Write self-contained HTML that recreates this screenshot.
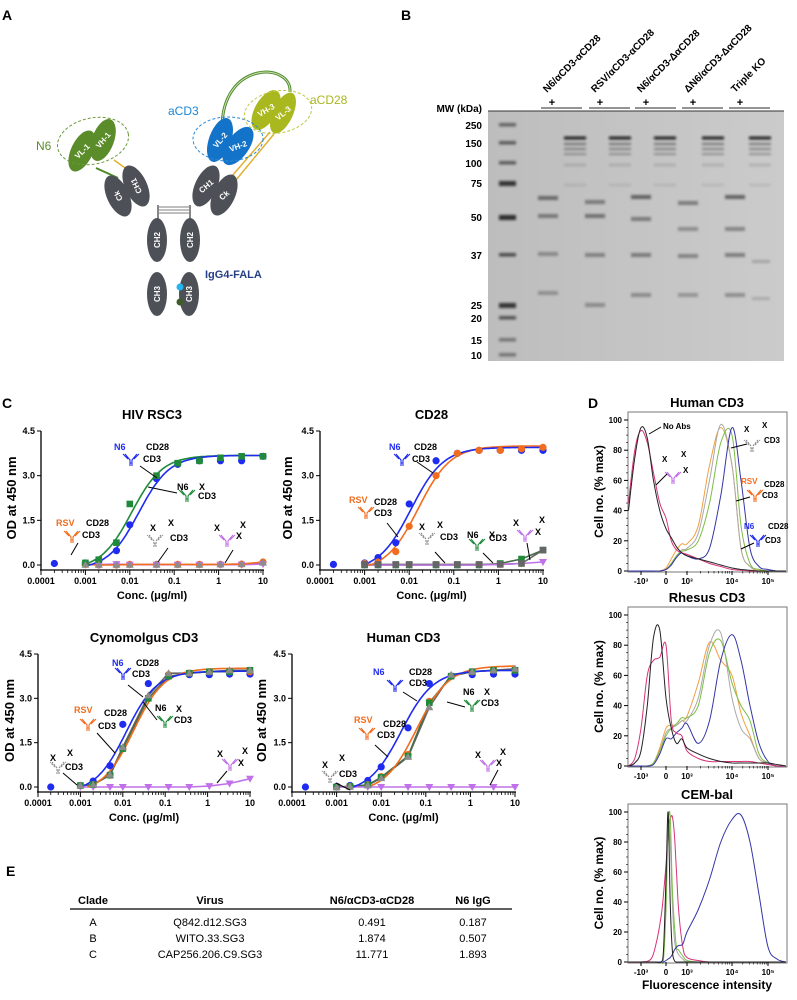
<!DOCTYPE html>
<html><head><meta charset="utf-8">
<style>
html,body{margin:0;padding:0;background:#fff;}
svg{display:block;font-family:"Liberation Sans",Arial,sans-serif;}
</style></head>
<body>
<svg id="fig" width="797" height="1000" viewBox="0 0 797 1000" xmlns="http://www.w3.org/2000/svg">
<defs>
<filter id="blur1" x="-20%" y="-80%" width="140%" height="260%"><feGaussianBlur stdDeviation="1.3"/></filter>
<linearGradient id="gelgrad" x1="0" y1="0" x2="1" y2="0"><stop offset="0" stop-color="#bdbdbd"/><stop offset="1" stop-color="#cbcbcb"/></linearGradient>
</defs>
</svg>
<script>
// ===== ELISA data =====
const concs=[0.0002,0.001,0.002,0.005,0.01,0.04,0.12,0.37,1.1,3.3,10];
const xTickVals=[0.0001,0.001,0.01,0.1,1,10];
const xTickLabels=['0.0001','0.001','0.01','0.1','1','10'];
const yTickVals=[0,1.5,3,4.5];
const yTickLabels=['0.0','1.5','3.0','4.5'];
// HIV RSC3
const rsc3Blue=[0.05,0.07,0.15,0.48,1.35,2.9,3.38,3.5,3.5,3.5,3.65];
const rsc3Green=[null,0.07,0.18,0.75,2.05,3.0,3.42,3.5,3.6,3.65,3.65];
const rsc3Orange=[null,0.02,0.0,0.0,0.02,0.02,0.02,0.02,0.02,0.03,0.1];
const rsc3Gray=[null,0.01,0.01,0.01,0.01,0.01,0.01,0.01,0.02,0.03,0.08];
const rsc3Purple=[null,0.01,0.01,0.03,0.01,0.01,0.01,0.01,0.01,0.01,0.03];
const rsc3BlueFit=[-0.15,3.68,0.016,1.25];
const rsc3GreenFit=[-0.15,3.68,0.011,1.25];
// CD28
const cd28Blue=[0.02,0.07,0.25,0.75,2.05,3.5,3.75,3.85,3.85,3.85,3.85];
const cd28Orange=[null,0.05,0.1,0.45,1.3,3.0,3.75,3.85,3.85,3.9,3.95];
const cd28Gray=[null,0.02,0.02,0.02,0.02,0.02,0.02,0.02,0.02,0.05,0.5];
const cd28Green=[null,0.0,0.0,0.0,0.0,0.0,0.0,0.0,0.05,0.2,0.5];
const cd28Purple=[null,0.0,0.0,0.0,0.0,0.0,0.0,0.0,0.02,0.05,0.1];
const cd28BlueFit=[-0.2,3.95,0.011,1.2];
const cd28OrangeFit=[-0.2,4.0,0.016,1.2];
// Cynomolgus CD3
const cynoBlue=[0.0,0.05,0.2,0.72,2.12,3.5,3.75,3.8,3.8,3.82,3.82];
const cynoOrange=[null,0.05,0.08,0.4,1.3,3.0,3.8,3.85,3.9,3.9,3.9];
const cynoGray=[null,0.05,0.08,0.42,1.35,3.1,3.85,3.85,3.9,3.95,3.95];
const cynoGreen=[null,0.05,0.08,0.4,1.3,3.0,3.75,3.85,3.9,3.9,3.95];
const cynoPurple=[null,0.0,0.0,0.0,0.0,0.0,0.0,0.0,0.03,0.12,0.28];
const cynoBlueFit=[-0.2,3.92,0.012,1.2];
const cynoOrangeFit=[-0.2,4.02,0.018,1.2];
// Human CD3
const huBlue=[0.0,0.02,0.05,0.22,0.68,2.0,3.5,3.75,3.8,3.82,3.82];
const huOrange=[null,0.0,0.02,0.08,0.35,1.1,2.9,3.75,3.9,3.95,3.95];
const huGray=[null,0.0,0.02,0.06,0.3,1.02,2.7,3.8,3.9,3.95,4.0];
const huGreen=[null,0.0,0.02,0.07,0.33,1.05,2.85,3.75,3.9,3.95,3.95];
const huPurple=[null,0.0,0.0,0.0,0.0,0.0,0.0,0.0,0.0,0.0,0.0];
const huBlueFit=[-0.2,3.95,0.028,1.2];
const huOrangeFit=[-0.2,4.1,0.062,1.2];

// ===== Flow data (u: -1=-10^3, 0=0, 1=10^3, 2=10^4, 3=10^5) =====
const flowU=[-1.5,-1.25,-1,-0.75,-0.5,-0.25,0,0.25,0.5,0.75,1,1.25,1.5,1.75,2,2.25,2.5,2.75,3,3.25,3.5];
const flowTickU=[-1,0,1,2,3];
const flowTickLabels=['-10³','0','10³','10⁴','10⁵'];
const flowYTicks=[0,20,40,60,80,100];
const hBlack=[40,75,95,88,60,40,28,22,16,12,10,8,6,4,2,1,0.5,0,0,0,0];
const hMagenta=[45,80,93,85,65,45,35,20,14,12,11,8,5,3,1,0.5,0,0,0,0,0];
const hGray=[0,0,0,0,0,0,1,5,10,14,15,25,60,97,70,15,3,1,0,0,0];
const hOrange=[0,0,0,0,0,0,2,8,14,18,18,30,70,95,70,15,3,0,0,0,0];
const hGreen=[0,0,0,0,0,0,1,5,10,13,14,20,45,85,90,30,5,1,0,0,0];
const hBlue=[0,0,0,0,0,0,1,4,9,12,10,8,15,50,95,60,15,3,1,0,0];
const rBlack=[0,2,10,40,85,90,45,25,15,18,12,8,5,3,2,2,2,2,2,1,0];
const rMagenta=[0,5,25,60,70,72,80,30,22,20,10,5,3,3,3,3,3,2,1,0,0];
const rGray=[0,0,0,0,2,10,22,25,27,30,30,45,80,88,45,25,18,5,2,0,0];
const rOrange=[0,0,0,0,2,12,25,27,27,30,33,55,82,70,60,35,20,5,2,0,0];
const rGreen=[0,0,0,0,2,10,20,25,28,32,32,40,75,83,55,40,30,8,2,0,0];
const rBlue=[0,0,0,0,1,8,18,18,22,25,28,15,30,70,87,70,40,15,3,0,0];
const cemU=[-1.5,-1,-0.6,-0.4,-0.2,-0.1,0,0.1,0.2,0.3,0.4,0.5,0.6,0.8,1,1.25,1.5,1.75,2,2.25,2.5,2.75,3,3.25,3.5];
const cBlack=[0,0,0,0,0,8,55,100,40,8,1,0,0,0,0,0,0,0,0,0,0,0,0,0,0];
const cGray=[0,0,0,0,0,3,40,95,80,40,15,8,5,2,0,0,0,0,0,0,0,0,0,0,0];
const cGreen=[0,0,0,0,0,2,35,90,97,50,25,10,8,4,1,0,0,0,0,0,0,0,0,0,0];
const cMagenta=[0,0,2,12,30,45,65,85,95,97,85,60,35,10,3,1,0,0,0,0,0,0,0,0,0];
const cBlue=[0,0,0,0,0,0,1,2,3,5,8,10,11,12,20,35,55,80,95,98,80,45,10,2,0];

// ===== Table data =====
const tableHeaders=['Clade','Virus','N6/αCD3-αCD28','N6 IgG'];
const clades=['A','B','C'];
const viruses=['Q842.d12.SG3','WITO.33.SG3','CAP256.206.C9.SG3'];
const triIC50=['0.491','1.874','11.771'];
const n6IC50=['0.187','0.507','1.893'];

const NS='http://www.w3.org/2000/svg';
const svg=document.getElementById('fig');
function mk(tag,attrs,name,parent){
  const e=document.createElementNS(NS,tag);
  for(const k in attrs) e.setAttribute(k,attrs[k]);
  
  
  (parent||svg).appendChild(e);
  return e;
}
function txt(x,y,s,o,name,parent){
  o=o||{};
  const a={x:x,y:y,'font-size':o.size||9,'font-weight':o.weight||'bold',fill:o.fill||'#000','text-anchor':o.anchor||'start'};
  if(o.transform) a.transform=o.transform;
  const e=mk('text',a,name,parent);
  e.textContent=s;
  return e;
}
function line(x1,y1,x2,y2,st,w,name,parent){return mk('line',{x1:x1,y1:y1,x2:x2,y2:y2,stroke:st,'stroke-width':w},name,parent);}

// ===== Panel letters =====
txt(2,20,'A',{size:14},'panel-a-label');
txt(401,20,'B',{size:14},'panel-b-label');
txt(2,408,'C',{size:14},'panel-c-label');
txt(588,408,'D',{size:14},'panel-d-label');
txt(6,876,'E',{size:14},'panel-e-label');

// ===== Panel A: antibody schematic =====
const gA=mk('g',{},'antibody-schematic');
function dom(cx,cy,rx,ry,rot,fill,label,name,labRot){
  const g=mk('g',{transform:`translate(${cx},${cy}) rotate(${rot})`},name,gA);
  mk('ellipse',{cx:0,cy:0,rx:rx,ry:ry,fill:fill},name+'-shape',g);
  txt(0,3,label,{size:8,fill:'#fff',anchor:'middle',transform:`rotate(${labRot})`},name+'-text',g);
  return g;
}
mk('path',{d:'M222,128 C222,60 292,62 290,92',fill:'none',stroke:'#4e8a2a','stroke-width':3},'linker-arc',gA);
mk('path',{d:'M222,128 C222,60 292,62 290,92',fill:'none',stroke:'#cfe3b8','stroke-width':1},'linker-arc-inner',gA);
for(let i=0;i<3;i++){line(158,207+i*3,190,207+i*3,'#aaa',1.5,'hinge-bar',gA);}
line(158,205,158,222,'#888',2,'hinge-left',gA);
line(190,205,190,222,'#888',2,'hinge-right',gA);
line(96,168,118,178,'#4e8a2a',2,'n6-vl-linker',gA);
line(114,160,128,170,'#e0b030',1.5,'n6-vh-linker',gA);
line(270,132,232,176,'#e0b030',1.5,'cd28-linker-1',gA);
line(274,134,236,180,'#e0b030',1.5,'cd28-linker-2',gA);
const dg='#4d5157';
dom(118,196,11,22,-25,dg,'Ck','ck-left',-90);
dom(136,186,11,22,-25,dg,'CH1','ch1-left',-90);
dom(206,186,11,22,25,dg,'CH1','ch1-right',-65);
dom(224,195,11,22,25,dg,'Ck','ck-right',-65);
dom(157,240,10,22,0,dg,'CH2','ch2-left',-90);
dom(190,240,10,22,0,dg,'CH2','ch2-right',-90);
dom(157,294,10,22,0,dg,'CH3','ch3-left',-90);
dom(189,294,10,22,0,dg,'CH3','ch3-right',-90);
mk('rect',{x:168,y:285,width:6,height:20,fill:'#fff'},'ch3-gap',gA);
mk('circle',{cx:180,cy:287,r:3.5,fill:'#25b5ee'},'knob-dot',gA);
mk('circle',{cx:180,cy:302,r:3.5,fill:'#3d5e28'},'hole-dot',gA);
dom(82,151,11,22,25,'#5b8c2a','VL-1','vl-1',-70);
dom(103,140,11,22,20,'#5b8c2a','VH-1','vh-1',-70);
dom(220,140,11,23,20,'#1273c8','VL-2','vl-2',-70);
dom(238,146,11,22,35,'#1273c8','VH-2','vh-2',-55);
dom(266,110,11,22,30,'#a9b81e','VH-3','vh-3',-60);
dom(283,113,10,22,25,'#a9b81e','VL-3','vl-3',-65);
mk('ellipse',{cx:93,cy:141,rx:36,ry:23,fill:'none',stroke:'#6a9a3a','stroke-dasharray':'3,2','stroke-width':1,transform:'rotate(-12 93 141)'},'n6-dashed-ellipse',gA);
mk('ellipse',{cx:228,cy:139,rx:35,ry:22,fill:'none',stroke:'#2a8ad8','stroke-dasharray':'3,2','stroke-width':1},'acd3-dashed-ellipse',gA);
mk('ellipse',{cx:278,cy:112,rx:34,ry:21,fill:'none',stroke:'#c0c840','stroke-dasharray':'3,2','stroke-width':1,transform:'rotate(-10 278 112)'},'acd28-dashed-ellipse',gA);
txt(36,150,'N6',{size:12,fill:'#5b8c2a',weight:'normal'},'n6-label',gA);
txt(168,115,'aCD3',{size:12,fill:'#1a88d8',weight:'normal'},'acd3-label',gA);
txt(310,104,'aCD28',{size:12,fill:'#a9b81e',weight:'normal'},'acd28-label',gA);
txt(205,278,'IgG4-FALA',{size:11,fill:'#253f85',weight:'bold'},'igg4-fala-label',gA);

// ===== Panel B: gel =====
const gB=mk('g',{},'sds-page-gel');
const laneNames=['N6/αCD3-αCD28','RSV/αCD3-αCD28','N6/αCD3-ΔαCD28','ΔN6/αCD3-ΔαCD28','Triple KO'];
const labX=[547,595,641,688,735];
laneNames.forEach((n,i)=>{
  txt(labX[i],93,n,{size:10,transform:`rotate(-45 ${labX[i]} 93)`},'lane-label',gB);
  txt(labX[i]+5,106,'+',{size:11,anchor:'middle'},'reduced-plus',gB);
  line(labX[i]-6,108,labX[i]+35,108,'#555',1.3,'lane-pair-line',gB);
});
txt(482,112,'MW (kDa)',{size:10,anchor:'end'},'mw-label',gB);
mk('rect',{x:488,y:111,width:296,height:250,fill:'url(#gelgrad)'},'gel-background',gB);
line(488,111,784,111,'#333',1,'gel-top-edge',gB);
const mwLabels=['250','150','100','75','50','37','25','20','15','10'];
const mwY=[125,143,163,183,217,255,305,318,340,355];
const mwOp=[.55,.6,.6,.85,.9,.7,.85,.65,.45,.45];
mwLabels.forEach((m,i)=>{
  txt(482,mwY[i]+4,m,{size:10,anchor:'end'},'mw-tick-label',gB);
  mk('rect',{x:499,y:mwY[i]-2,width:17,height:m==='75'||m==='50'||m==='25'?5:3.5,fill:'#1a1a1a',opacity:mwOp[i],filter:'url(#blur1)'},'ladder-band',gB);
});
const redX=[548,595,641,688,735];
const redBands=[[[198,.55],[216,.45],[254,.35],[293,.3]],[[202,.45],[216,.5],[255,.4],[305,.35]],[[197,.6],[219,.45],[255,.45],[295,.35]],[[203,.45],[229,.35],[256,.4],[295,.3]],[[197,.6],[229,.4],[255,.45],[295,.35]]];
redBands.forEach((bs,i)=>bs.forEach(b=>{
  mk('rect',{x:redX[i]-10,y:b[0]-2,width:20,height:4,fill:'#222',opacity:b[1],filter:'url(#blur1)'},'reduced-band',gB);
}));
const nrX=[575,620,665,713,760];
const nrBands=[[138,.9,3],[144,.45,2],[149,.38,2],[154,.3,2],[165,.12,3],[185,.08,3]];
nrX.forEach((x,i)=>nrBands.forEach(b=>{
  mk('rect',{x:x-11,y:b[0]-b[2]/2,width:22,height:b[2],fill:'#111',opacity:b[1],filter:'url(#blur1)'},'non-reduced-band',gB);
}));
mk('rect',{x:752,y:260,width:18,height:3,fill:'#333',opacity:.25,filter:'url(#blur1)'},'triple-ko-faint-band',gB);
mk('rect',{x:752,y:297,width:18,height:3,fill:'#333',opacity:.2,filter:'url(#blur1)'},'triple-ko-faint-band',gB);

// ===== Panel C: ELISA charts =====
function icon(x,y,col,name,parent,dashed){
  const g=mk('g',{transform:`translate(${x},${y})`,stroke:col,'stroke-width':1.1,fill:'none'},name,parent);
  if(dashed) g.setAttribute('stroke-dasharray','2,1');
  mk('path',{d:'M-1,6 V0 L-6,-6 M1,6 V0 L6,-6 M-3,-1 L-8,-6 M3,-1 L8,-6 M-1,3 H1'},name+'-path',g);
  return g;
}
function fourPL(p,x){return p[0]+(p[1]-p[0])/(1+Math.pow(p[2]/x,p[3]));}
function drawElisa(cfg){
  const g=mk('g',{},cfg.name);
  const X=v=>cfg.x0+(Math.log10(v)+4)/5*(cfg.x1-cfg.x0);
  const Y=v=>cfg.y0-(v/4.5)*(cfg.y0-cfg.yt);
  txt((cfg.x0+cfg.x1)/2,cfg.yt-12,cfg.title,{size:13,anchor:'middle'},'chart-title',g);
  line(cfg.x0,cfg.yt,cfg.x0,cfg.y0+5,'#000',1.3,'y-axis',g);
  line(cfg.x0-1,cfg.y0+5,cfg.x1+1,cfg.y0+5,'#000',1.3,'x-axis',g);
  yTickVals.forEach((v,i)=>{
    line(cfg.x0-4,Y(v),cfg.x0,Y(v),'#000',1,'y-tick',g);
    txt(cfg.x0-6,Y(v)+3,yTickLabels[i],{size:9,anchor:'end'},'y-tick-label',g);
  });
  xTickVals.forEach((v,i)=>{
    line(X(v),cfg.y0+5,X(v),cfg.y0+10,'#000',1,'x-tick',g);
    txt(X(v),cfg.y0+19,xTickLabels[i],{size:9,anchor:'middle'},'x-tick-label',g);
    if(i<xTickVals.length-1){for(let k=2;k<10;k++){line(X(v*k),cfg.y0+5,X(v*k),cfg.y0+8,'#000',0.8,'x-minor-tick',g);}}
  });
  txt((cfg.x0+cfg.x1)/2,cfg.y0+34,'Conc. (μg/ml)',{size:11,anchor:'middle'},'x-axis-title',g);
  const yc=(cfg.y0+cfg.yt)/2;
  txt(cfg.ylx,yc,'OD at 450 nm',{size:13,anchor:'middle',transform:`rotate(-90 ${cfg.ylx} ${yc})`},'y-axis-title',g);
  cfg.series.forEach(s=>{
    if(s.fit){
      let d='';const N=120;
      for(let k=0;k<=N;k++){
        const lx=-4+5*k/N;const v=Math.pow(10,lx);const yv=fourPL(s.fit,v);
        if(yv<-0.02){continue;}
        d+=(d?'L':'M')+X(v).toFixed(1)+','+Y(yv).toFixed(1);
      }
      mk('path',{d:d,fill:'none',stroke:s.color,'stroke-width':1.6},s.key+'-fit-curve',g);
    } else {
      let d='';
      s.vals.forEach((v,i)=>{if(v===null)return;d+=(d?'L':'M')+X(concs[i]).toFixed(1)+','+Y(v).toFixed(1);});
      mk('path',{d:d,fill:'none',stroke:s.lineColor||s.color,'stroke-width':1.6},s.key+'-fit-line',g);
    }
  });
  cfg.series.slice().reverse().forEach(s=>{
    s.vals.forEach((v,i)=>{
      if(v===null)return;
      const px=X(concs[i]),py=Y(v);
      if(s.shape==='circle') mk('circle',{cx:px,cy:py,r:3.6,fill:s.color},s.key+'-point',g);
      else if(s.shape==='square') mk('rect',{x:px-3.3,y:py-3.3,width:6.6,height:6.6,fill:s.color},s.key+'-point',g);
      else if(s.shape==='tri') mk('path',{d:`M${px},${py-4}L${px+4},${py+3}L${px-4},${py+3}Z`,fill:s.color},s.key+'-point',g);
      else mk('path',{d:`M${px},${py+4}L${px+4},${py-3}L${px-4},${py-3}Z`,fill:s.color},s.key+'-point',g);
    });
  });
  cfg.ann.forEach(a=>{
    if(a.icon) icon(a.icon[0],a.icon[1],a.col,'antibody-icon',g,a.dashed);
    (a.t||[]).forEach(t=>txt(t[0],t[1],t[2],{size:9,fill:t[3]||'#000'},'annotation-label',g));
    if(a.l) line(a.l[0],a.l[1],a.l[2],a.l[3],'#000',1,'annotation-leader',g);
  });
}
const B='#1f2bf0',G='#1f8a3a',O='#f26c1d',GR='#8c8c8c',P='#c070e8';
const tri=(blue,green,orange,gray,purple,bf,gf,of)=>[
  {key:'gray',vals:gray,color:GR,shape:'tri',lineColor:'#666'},
  {key:'green',vals:green,color:G,shape:'square',fit:gf,lineColor:'#4a6a4a'},
  {key:'purple',vals:purple,color:P,shape:'dtri'},
  {key:'orange',vals:orange,color:O,shape:'circle',fit:of},
  {key:'blue',vals:blue,color:B,shape:'circle',fit:bf}
];
drawElisa({name:'chart-hiv-rsc3',title:'HIV RSC3',x0:41,x1:263,y0:565,yt:431,ylx:16,
  series:tri(rsc3Blue,rsc3Green,rsc3Orange,rsc3Gray,rsc3Purple,rsc3BlueFit,rsc3GreenFit,null),
  ann:[
   {icon:[131,460],col:B,t:[[114,450,'N6',B],[146,450,'CD28'],[143,462,'CD3']],l:[140,466,157,478]},
   {icon:[187,496],col:G,t:[[177,490,'N6'],[199,490,'X'],[198,499,'CD3']],l:[148,487,177,493]},
   {icon:[72,537],col:O,t:[[56,526,'RSV',O],[86,526,'CD28'],[82,538,'CD3']],l:[71,555,78,543]},
   {icon:[155,541],col:GR,dashed:1,t:[[150,531,'X'],[168,526,'X'],[170,541,'CD3']],l:[158,562,168,548]},
   {icon:[227,541],col:P,t:[[214,531,'X'],[240,528,'X'],[236,539,'X']],l:[225,563,233,550]}
  ]});
drawElisa({name:'chart-cd28',title:'CD28',x0:320,x1:543,y0:565,yt:431,ylx:292,
  series:[
   {key:'gray',vals:cd28Gray,color:'#666',shape:'square',lineColor:'#666'},
   {key:'green',vals:cd28Green,color:G,shape:'square',lineColor:'#4a6a4a'},
   {key:'purple',vals:cd28Purple,color:P,shape:'dtri'},
   {key:'orange',vals:cd28Orange,color:O,shape:'circle',fit:cd28OrangeFit},
   {key:'blue',vals:cd28Blue,color:B,shape:'circle',fit:cd28BlueFit}],
  ann:[
   {icon:[402,460],col:B,t:[[389,450,'N6',B],[414,450,'CD28'],[412,462,'CD3']],l:[417,462,433,473]},
   {icon:[366,513],col:O,t:[[349,503,'RSV',O],[374,505,'CD28'],[374,516,'CD3']],l:[387,523,398,537]},
   {icon:[427,539],col:GR,dashed:1,t:[[419,530,'X'],[437,528,'X'],[440,540,'CD3']],l:[435,552,445,563]},
   {icon:[477,545],col:G,t:[[467,538,'N6'],[489,538,'X'],[489,541,'CD3']],l:[483,553,493,563]},
   {icon:[525,536],col:P,t:[[513,526,'X'],[539,523,'X'],[535,535,'X']],l:[527,543,530,560]}
  ]});
drawElisa({name:'chart-cynomolgus-cd3',title:'Cynomolgus CD3',x0:38,x1:250,y0:787,yt:654,ylx:14,
  series:tri(cynoBlue,cynoGreen,cynoOrange,cynoGray,cynoPurple,cynoBlueFit,null,cynoOrangeFit),
  ann:[
   {icon:[123,674],col:B,t:[[112,666,'N6',B],[136,666,'CD28'],[132,677,'CD3']],l:[128,685,143,697]},
   {icon:[88,725],col:O,t:[[74,713,'RSV',O],[104,716,'CD28'],[98,729,'CD3']],l:[97,733,115,753]},
   {icon:[165,722],col:G,t:[[155,711,'N6'],[176,712,'X'],[174,723,'CD3']],l:[143,702,157,720]},
   {icon:[58,768],col:GR,dashed:1,t:[[50,761,'X'],[67,756,'X'],[65,770,'CD3']],l:[63,773,77,785]},
   {icon:[230,765],col:P,t:[[217,757,'X'],[242,754,'X'],[238,766,'X']],l:[227,771,217,783]}
  ]});
drawElisa({name:'chart-human-cd3',title:'Human CD3',x0:292,x1:515,y0:787,yt:654,ylx:266,
  series:tri(huBlue,huGreen,huOrange,huGray,huPurple,huBlueFit,null,huOrangeFit),
  ann:[
   {icon:[395,686],col:B,t:[[373,675,'N6',B],[409,675,'CD28'],[409,686,'CD3']],l:[403,692,417,701]},
   {icon:[472,706],col:G,t:[[463,695,'N6'],[484,695,'X'],[481,706,'CD3']],l:[447,702,465,707]},
   {icon:[367,734],col:O,t:[[354,723,'RSV',O],[383,727,'CD28'],[377,738,'CD3']],l:[375,745,388,757]},
   {icon:[330,777],col:GR,dashed:1,t:[[322,768,'X'],[339,761,'X'],[339,777,'CD3']],l:[336,783,350,790]},
   {icon:[488,766],col:P,t:[[475,758,'X'],[500,755,'X'],[496,766,'X']],l:[498,770,490,785]}
  ]});

// ===== Panel D: flow histograms =====
const tickPx=[641,666,687,732,768];
function FX(u){
  if(u<=flowTickU[0]) return tickPx[0]+(u-flowTickU[0])*(tickPx[1]-tickPx[0]);
  for(let i=0;i<flowTickU.length-1;i++){
    if(u<=flowTickU[i+1]) return tickPx[i]+(u-flowTickU[i])/(flowTickU[i+1]-flowTickU[i])*(tickPx[i+1]-tickPx[i]);
  }
  return tickPx[4]+(u-3)*(tickPx[4]-tickPx[3]);
}
function smooth(pts){
  let d='M'+pts[0][0].toFixed(1)+','+pts[0][1].toFixed(1);
  for(let i=0;i<pts.length-1;i++){
    const p0=pts[i-1]||pts[i],p1=pts[i],p2=pts[i+1],p3=pts[i+2]||p2;
    const c1=[p1[0]+(p2[0]-p0[0])/6,p1[1]+(p2[1]-p0[1])/6];
    const c2=[p2[0]-(p3[0]-p1[0])/6,p2[1]-(p3[1]-p1[1])/6];
    d+=`C${c1[0].toFixed(1)},${c1[1].toFixed(1)} ${c2[0].toFixed(1)},${c2[1].toFixed(1)} ${p2[0].toFixed(1)},${p2[1].toFixed(1)}`;
  }
  return d;
}
function drawFlow(cfg){
  const g=mk('g',{},cfg.name);
  const Y=v=>cfg.y0-v/100*(cfg.y0-cfg.y100);
  txt(707,cfg.top-5,cfg.title,{size:13,anchor:'middle'},'histogram-title',g);
  mk('rect',{x:628,y:cfg.top,width:159,height:cfg.y0-cfg.top+1,fill:'none',stroke:'#777','stroke-width':1},'plot-frame',g);
  flowYTicks.forEach(v=>{
    line(624,Y(v),628,Y(v),'#000',1,'y-tick',g);
    txt(622,Y(v)+3,String(v),{size:8,anchor:'end'},'y-tick-label',g);
    if(v<100) for(let k=1;k<4;k++) line(626,Y(v+k*5),628,Y(v+k*5),'#000',0.6,'y-minor-tick',g);
  });
  flowTickU.forEach((u,i)=>{
    line(FX(u),cfg.y0,FX(u),cfg.y0+4,'#000',1,'x-tick',g);
    txt(FX(u),cfg.y0+13,flowTickLabels[i],{size:8,anchor:'middle'},'x-tick-label',g);
  });
  [0.3,0.48,0.6,0.7,0.78,0.85,0.9,0.95].forEach(f=>{
    [1,2].forEach(d=>line(FX(d+f),cfg.y0,FX(d+f),cfg.y0+2.5,'#000',0.6,'x-minor-tick',g));
  });
  const yc=(cfg.top+cfg.y0)/2;
  txt(603,yc,'Cell no. (% max)',{size:12,anchor:'middle',transform:`rotate(-90 603 ${yc})`},'y-axis-title',g);
  cfg.series.forEach(s=>{
    const pts=s.vals.map((v,i)=>[FX(s.u[i]),Y(v)]);
    mk('path',{d:smooth(pts),fill:'none',stroke:s.color,'stroke-width':1},s.key+'-histogram',g);
  });
  return g;
}
const fk='#222',fm='#d6337a',fg='#aaaaaa',fo='#f0a040',fgr='#7cbd48',fb='#3535a8';
const gH=drawFlow({name:'histogram-human-cd3',title:'Human CD3',top:412,y0:571,y100:420,series:[
  {key:'orange',u:flowU,vals:hOrange,color:fo},{key:'gray',u:flowU,vals:hGray,color:fg},{key:'green',u:flowU,vals:hGreen,color:fgr},
  {key:'blue',u:flowU,vals:hBlue,color:fb},{key:'magenta',u:flowU,vals:hMagenta,color:fm},{key:'black',u:flowU,vals:hBlack,color:fk}]});
drawFlow({name:'histogram-rhesus-cd3',title:'Rhesus CD3',top:607,y0:766,y100:615,series:[
  {key:'orange',u:flowU,vals:rOrange,color:fo},{key:'gray',u:flowU,vals:rGray,color:fg},{key:'green',u:flowU,vals:rGreen,color:fgr},
  {key:'blue',u:flowU,vals:rBlue,color:fb},{key:'magenta',u:flowU,vals:rMagenta,color:fm},{key:'black',u:flowU,vals:rBlack,color:fk}]});
drawFlow({name:'histogram-cem-bal',title:'CEM-bal',top:804,y0:962,y100:812,series:[
  {key:'magenta',u:cemU,vals:cMagenta,color:fm},{key:'gray',u:cemU,vals:cGray,color:fg},{key:'green',u:cemU,vals:cGreen,color:fgr},
  {key:'blue',u:cemU,vals:cBlue,color:fb},{key:'black',u:cemU,vals:cBlack,color:fk}]});
txt(707,989,'Fluorescence intensity',{size:12,anchor:'middle'},'x-axis-title');
txt(663,429,'No Abs',{size:8},'no-abs-label',gH);
line(649,434,661,427,'#000',1,'annotation-leader',gH);
icon(673,478,P,'antibody-icon',gH);
txt(662,462,'X',{size:8},'annotation-label',gH);txt(681,457,'X',{size:8},'annotation-label',gH);txt(683,473,'X',{size:8},'annotation-label',gH);
line(656,485,667,474,'#000',1,'annotation-leader',gH);
icon(752,446,GR,'antibody-icon',gH,1);
txt(744,432,'X',{size:8},'annotation-label',gH);txt(762,428,'X',{size:8},'annotation-label',gH);txt(764,443,'CD3',{size:8},'annotation-label',gH);
line(731,448,747,444,'#000',1,'annotation-leader',gH);
icon(755,496,O,'antibody-icon',gH);
txt(741,484,'RSV',{size:8,fill:O},'annotation-label',gH);txt(764,487,'CD28',{size:8},'annotation-label',gH);txt(762,498,'CD3',{size:8},'annotation-label',gH);
line(736,501,750,497,'#000',1,'annotation-leader',gH);
icon(758,541,B,'antibody-icon',gH);
txt(744,529,'N6',{size:8,fill:B},'annotation-label',gH);txt(768,529,'CD28',{size:8},'annotation-label',gH);txt(765,543,'CD3',{size:8},'annotation-label',gH);
line(741,549,754,543,'#000',1,'annotation-leader',gH);

// ===== Panel E: table =====
const gE=mk('g',{},'neutralization-table');
const colX=[93,210,372,473];
tableHeaders.forEach((h,i)=>txt(colX[i],904,h,{size:11,anchor:'middle'},'table-header',gE));
line(70,909,512,909,'#000',1.2,'table-header-rule',gE);
const rowY=[926,942,958];
clades.forEach((c,i)=>{
  txt(colX[0],rowY[i],c,{size:11,weight:'normal',anchor:'middle'},'clade-cell',gE);
  txt(colX[1],rowY[i],viruses[i],{size:11,weight:'normal',anchor:'middle'},'virus-cell',gE);
  txt(colX[2],rowY[i],triIC50[i],{size:11,weight:'normal',anchor:'middle'},'trispecific-ic50-cell',gE);
  txt(colX[3],rowY[i],n6IC50[i],{size:11,weight:'normal',anchor:'middle'},'n6-igg-ic50-cell',gE);
});
</script>
</body></html>
